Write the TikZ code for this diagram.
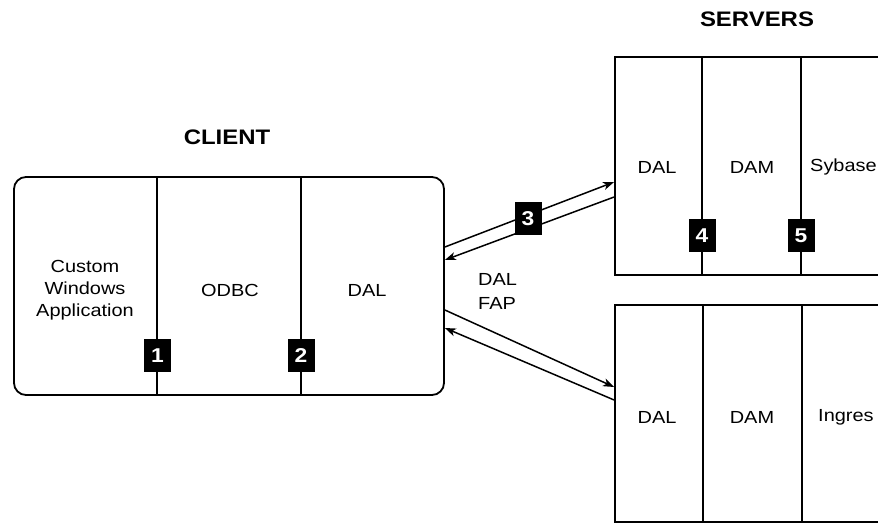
\documentclass[tikz,border=0pt]{standalone}
\usepackage{fontspec}
\setmainfont{Liberation Sans}[FakeStretch=1.14]
\usetikzlibrary{arrows.meta}
\tikzset{
  boxframe/.style={draw=black, line width=1.8pt, inner sep=0pt},
  divider/.style={draw=black, line width=1.1pt},
  lbl/.style={font=\fontsize{17.5}{22}\selectfont, align=center, inner sep=0pt},
  ttl/.style={font=\fontsize{21}{25}\selectfont\bfseries, inner sep=0pt},
  badge/.style={fill=black, text=white, minimum width=27pt, minimum height=33pt, inner sep=0pt, font=\fontsize{20}{20}\selectfont\bfseries},
  arr/.style={draw=black, line width=1.5pt, -{Stealth[length=11pt,width=8pt,inset=3pt]}}
}
\begin{document}
\begin{tikzpicture}[x=1pt,y=-1pt]
\useasboundingbox (0,0) rectangle (878,526);
\clip (0,0) rectangle (878,526);
% client
\node[boxframe, rounded corners=12pt, minimum width=430pt, minimum height=218pt] (client) at (229,286) {};
\draw[divider] (157,177) -- (157,395);
\draw[divider] (301,177) -- (301,395);
\node[lbl] (capp) at (85,290) {Custom\\Windows\\Application};
\node[lbl] (codbc) at (230,290) {ODBC};
\node[lbl] (cdal) at (367,290) {DAL};
\node[badge] (b1) at (157.5,355.5) {1};
\node[badge] (b2) at (301,355.5) {2};
\node[ttl] (tclient) at (227,137) {CLIENT};
% server 1
\node[boxframe, minimum width=290pt, minimum height=218pt] (srv1) at (760,166) {};
\draw[divider] (702,57) -- (702,275);
\draw[divider] (801,57) -- (801,275);
\node[lbl] (s1dal) at (657,167) {DAL};
\node[lbl] (s1dam) at (752,167) {DAM};
\node[lbl, anchor=west] (s1syb) at (810,167) {Sybase};
\node[badge] (b4) at (702,236) {4};
\node[badge] (b5) at (801,236) {5};
\node[ttl] (tservers) at (757,19) {SERVERS};
% server 2
\node[boxframe, minimum width=290pt, minimum height=217pt] (srv2) at (760,413.5) {};
\draw[divider] (703,305) -- (703,522);
\draw[divider] (802,305) -- (802,522);
\node[lbl] (s2dal) at (657,417) {DAL};
\node[lbl] (s2dam) at (752,417) {DAM};
\node[lbl, anchor=west] (s2ing) at (818,417) {Ingres};
% connectors
\draw[arr] (client.east |- 0,247) -- (srv1.west |- 0,182);
\draw[arr] (srv1.west |- 0,197) -- (client.east |- 0,260);
\draw[arr] (client.east |- 0,310) -- (srv2.west |- 0,387);
\draw[arr] (srv2.west |- 0,400) -- (client.east |- 0,328);
\node[badge] (b3) at (528,219) {3};
\node[lbl, align=left, anchor=west, font=\fontsize{17.5}{24}\selectfont] (fap) at (478,291) {DAL\\FAP};
\end{tikzpicture}
\end{document}
